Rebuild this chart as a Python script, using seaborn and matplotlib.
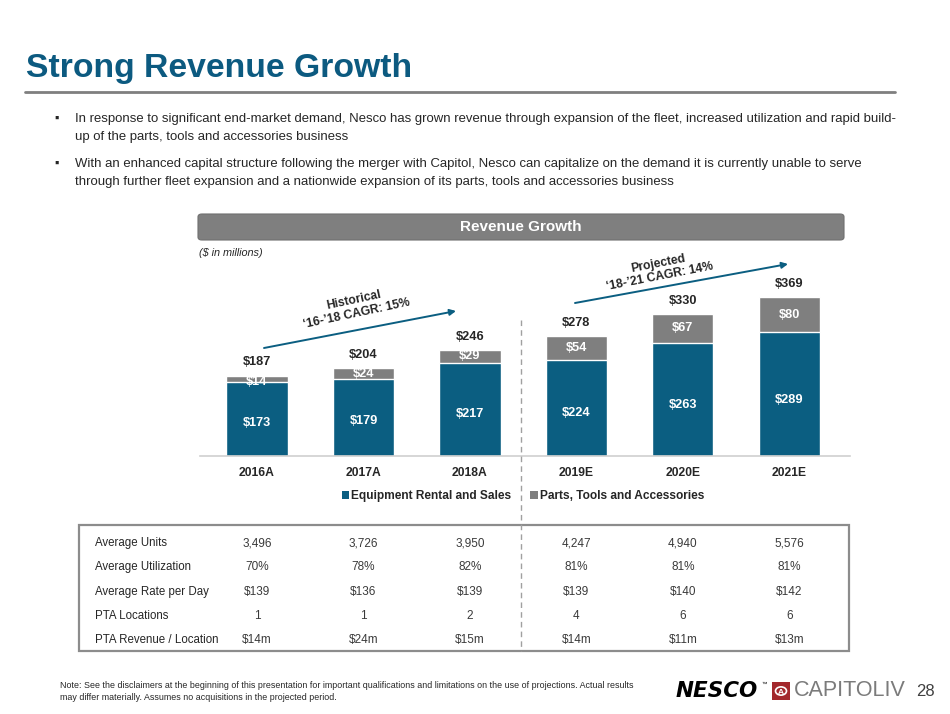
import matplotlib
matplotlib.use("Agg")
import matplotlib.pyplot as plt
import matplotlib.transforms as mtransforms
from matplotlib.patches import FancyBboxPatch, Rectangle, Patch, Circle, FancyArrowPatch
from matplotlib.lines import Line2D
import seaborn as sns
import pandas as pd

# ---------------- data ----------------
years = ["2016A", "2017A", "2018A", "2019E", "2020E", "2021E"]
equipment = [173, 179, 217, 224, 263, 289]
parts = [14, 24, 29, 54, 67, 80]
totals = [187, 204, 246, 278, 330, 369]

metric_labels = ["Average Units", "Average Utilization", "Average Rate per Day",
                 "PTA Locations", "PTA Revenue / Location"]
avg_units = ["3,496", "3,726", "3,950", "4,247", "4,940", "5,576"]
avg_util = ["70%", "78%", "82%", "81%", "81%", "81%"]
avg_rate = ["$139", "$136", "$139", "$139", "$140", "$142"]
pta_locations = ["1", "1", "2", "4", "6", "6"]
pta_revenue = ["$14m", "$24m", "$15m", "$14m", "$11m", "$13m"]

title = "Strong Revenue Growth"
bullets = [
    ["In response to significant end-market demand, Nesco has grown revenue through expansion of the fleet, increased utilization and rapid build-",
     "up of the parts, tools and accessories business"],
    ["With an enhanced capital structure following the merger with Capitol, Nesco can capitalize on the demand it is currently unable to serve",
     "through further fleet expansion and a nationwide expansion of its parts, tools and accessories business"],
]

# ---------------- style ----------------
sns.set_theme(style="white")
plt.rcParams["font.family"] = ["Liberation Sans", "DejaVu Sans"]
plt.rcParams["text.parse_math"] = False

BLUE = "#0b5e81"
GRAY = "#7f7f7f"
TXT = "#262626"

W, H = 950, 714
fig = plt.figure(figsize=(9.5, 7.14), dpi=100)


def P(x, y):
    return (x / W, 1 - y / H)


# ---------------- header ----------------
fig.text(*P(26, 68), title, fontsize=24.3, fontweight="bold", color="#0c5a80",
         va="center", ha="left")
fig.add_artist(Line2D([25 / W, 895 / W], [1 - 92 / H] * 2, color="#7f7f7f", lw=2.0))

by = [[119, 137], [164, 182]]
for b, ys in zip(bullets, by):
    fig.text(*P(54, ys[0]), "\u25aa", fontsize=9, color=TXT, va="center", ha="left")
    for line, yy in zip(b, ys):
        fig.text(*P(75, yy), line, fontsize=9.45, color=TXT, va="center", ha="left")

# banner
fig.add_artist(FancyBboxPatch((198 / W, 1 - 240 / H), 646 / W, 26 / H,
                              boxstyle="round,pad=0,rounding_size=0.004",
                              transform=fig.transFigure, fc=GRAY, ec="#6f6f6f", lw=0.8))
fig.text(*P(521, 227), "Revenue Growth", fontsize=11, fontweight="bold",
         color="white", ha="center", va="center")
fig.text(*P(199, 253), "($ in millions)", fontsize=7.8, style="italic",
         color=TXT, ha="left", va="center")

# ---------------- bar chart ----------------
ax_l, ax_r, ax_t, ax_b = 200, 850, 250, 456
ax = fig.add_axes([ax_l / W, 1 - ax_b / H, (ax_r - ax_l) / W, (ax_b - ax_t) / H])
df = pd.DataFrame({"year": years, "equipment": equipment, "parts": parts,
                   "total": totals})
bw = 0.575
sns.barplot(data=df, x="year", y="total", color=GRAY, saturation=1,
            width=bw, ax=ax, order=years)
sns.barplot(data=df, x="year", y="equipment", color=BLUE, saturation=1,
            width=bw, ax=ax, order=years)
ax.set_xlim(-0.535, 5.57)
ax.set_ylim(0, 479)
ax.set_xlabel("")
ax.set_ylabel("")
ax.set_yticks([])
for s in ["left", "right", "top"]:
    ax.spines[s].set_visible(False)
ax.spines["bottom"].set_color("#d0d0d0")
ax.spines["bottom"].set_linewidth(1.2)
ax.tick_params(axis="x", length=0, pad=8, labelsize=8.7, labelcolor=TXT)
for t in ax.get_xticklabels():
    t.set_fontweight("bold")
ax.patch.set_alpha(0)

for i in range(len(years)):
    ax.text(i, equipment[i] * 0.45, f"${equipment[i]}", color="white",
            fontsize=9.2, fontweight="bold", ha="center", va="center")
    mid = equipment[i] + parts[i] / 2
    if parts[i] < 20:
        mid = equipment[i] - 2
    ax.text(i, mid, f"${parts[i]}", color="white", fontsize=9.2,
            fontweight="bold", ha="center", va="center")
    ax.annotate(f"${totals[i]}", (i, totals[i]), xytext=(0, 9.5),
                textcoords="offset points", ha="center", va="center",
                fontsize=9.2, fontweight="bold", color=TXT)

# arrows and CAGR labels
arrow_kw = dict(arrowstyle="-|>", color=BLUE, lw=1.4, mutation_scale=9,
                shrinkA=0, shrinkB=0)
fig.add_artist(FancyArrowPatch(P(264, 348), P(456, 311),
                               transform=fig.transFigure, **arrow_kw))
fig.add_artist(FancyArrowPatch(P(575, 303), P(788, 264),
                               transform=fig.transFigure, **arrow_kw))
fig.text(*P(354, 300), "Historical", fontsize=8.7, fontweight="bold", color=TXT,
         rotation=12, ha="center", va="center", rotation_mode="anchor")
fig.text(*P(357, 314), "\u201816-\u201918 CAGR: 15%", fontsize=8.7, fontweight="bold",
         color=TXT, rotation=12, ha="center", va="center", rotation_mode="anchor")
fig.text(*P(658, 264), "Projected", fontsize=8.7, fontweight="bold", color=TXT,
         rotation=11, ha="center", va="center", rotation_mode="anchor")
fig.text(*P(660, 277), "\u201818-\u201921 CAGR: 14%", fontsize=8.7, fontweight="bold",
         color=TXT, rotation=11, ha="center", va="center", rotation_mode="anchor")

# dashed separator
fig.add_artist(Line2D([521 / W] * 2, [1 - 320 / H, 1 - 651 / H], color="#a0a0a0",
                      lw=1.0, ls=(0, (4, 3))))

# legend
handles = [Patch(fc=BLUE, ec="none", label="Equipment Rental and Sales"),
           Patch(fc=GRAY, ec="none", label="Parts, Tools and Accessories")]
leg = fig.legend(handles=handles, loc="center", bbox_to_anchor=P(523, 496),
                 ncol=2, frameon=False, handlelength=0.6, handleheight=0.6,
                 handletextpad=0.2, columnspacing=1.6,
                 prop={"size": 8.6, "weight": "bold"})
for t in leg.get_texts():
    t.set_color(TXT)

# ---------------- table ----------------
fig.add_artist(Rectangle((79 / W, 1 - 651 / H), 770 / W, 126 / H,
                         transform=fig.transFigure, fc="none", ec="#8c8c8c", lw=1.6))
rows = [avg_units, avg_util, avg_rate, pta_locations, pta_revenue]
row_y = [543, 567, 592, 616, 640]
trans = mtransforms.blended_transform_factory(ax.transData, fig.transFigure)
for lab, vals, yy in zip(metric_labels, rows, row_y):
    fig.text(*P(95, yy), lab, fontsize=8.3, color=TXT, ha="left", va="center")
    for i, v in enumerate(vals):
        fig.text(i, 1 - yy / H, v, transform=trans, fontsize=8.5, color="#3a3a3a",
                 ha="center", va="center")

# ---------------- footer ----------------
fig.text(*P(60, 686), "Note: See the disclaimers at the beginning of this presentation for important qualifications and limitations on the use of projections. Actual results",
         fontsize=6.4, color=TXT, ha="left", va="center")
fig.text(*P(60, 698), "may differ materially. Assumes no acquisitions in the projected period.",
         fontsize=6.4, color=TXT, ha="left", va="center")
fig.text(*P(676, 691), "NESCO", fontsize=15.5, fontweight="heavy", style="italic",
         color="black", ha="left", va="center", family=["DejaVu Sans"])
fig.text(*P(762, 684), "\u2122", fontsize=4, color="black", ha="left", va="center")
fig.add_artist(Rectangle((772 / W, 1 - 700 / H), 18 / W, 18 / H,
                         transform=fig.transFigure, fc="#a3282c", ec="none"))
fig.add_artist(Circle(P(781, 691), 5.5 / W, transform=fig.transFigure, fc="none",
                      ec="white", lw=1.2))
fig.text(*P(781, 692), "A", fontsize=6, color="white", fontweight="bold",
         ha="center", va="center")
fig.text(*P(794, 691), "CAPITOLIV", fontsize=15.5, color="#7b7b7b", ha="left",
         va="center")
fig.text(*P(916, 692), "28", fontsize=12, color="#404040", ha="left", va="center")

fig.savefig("out.png", dpi=100)
